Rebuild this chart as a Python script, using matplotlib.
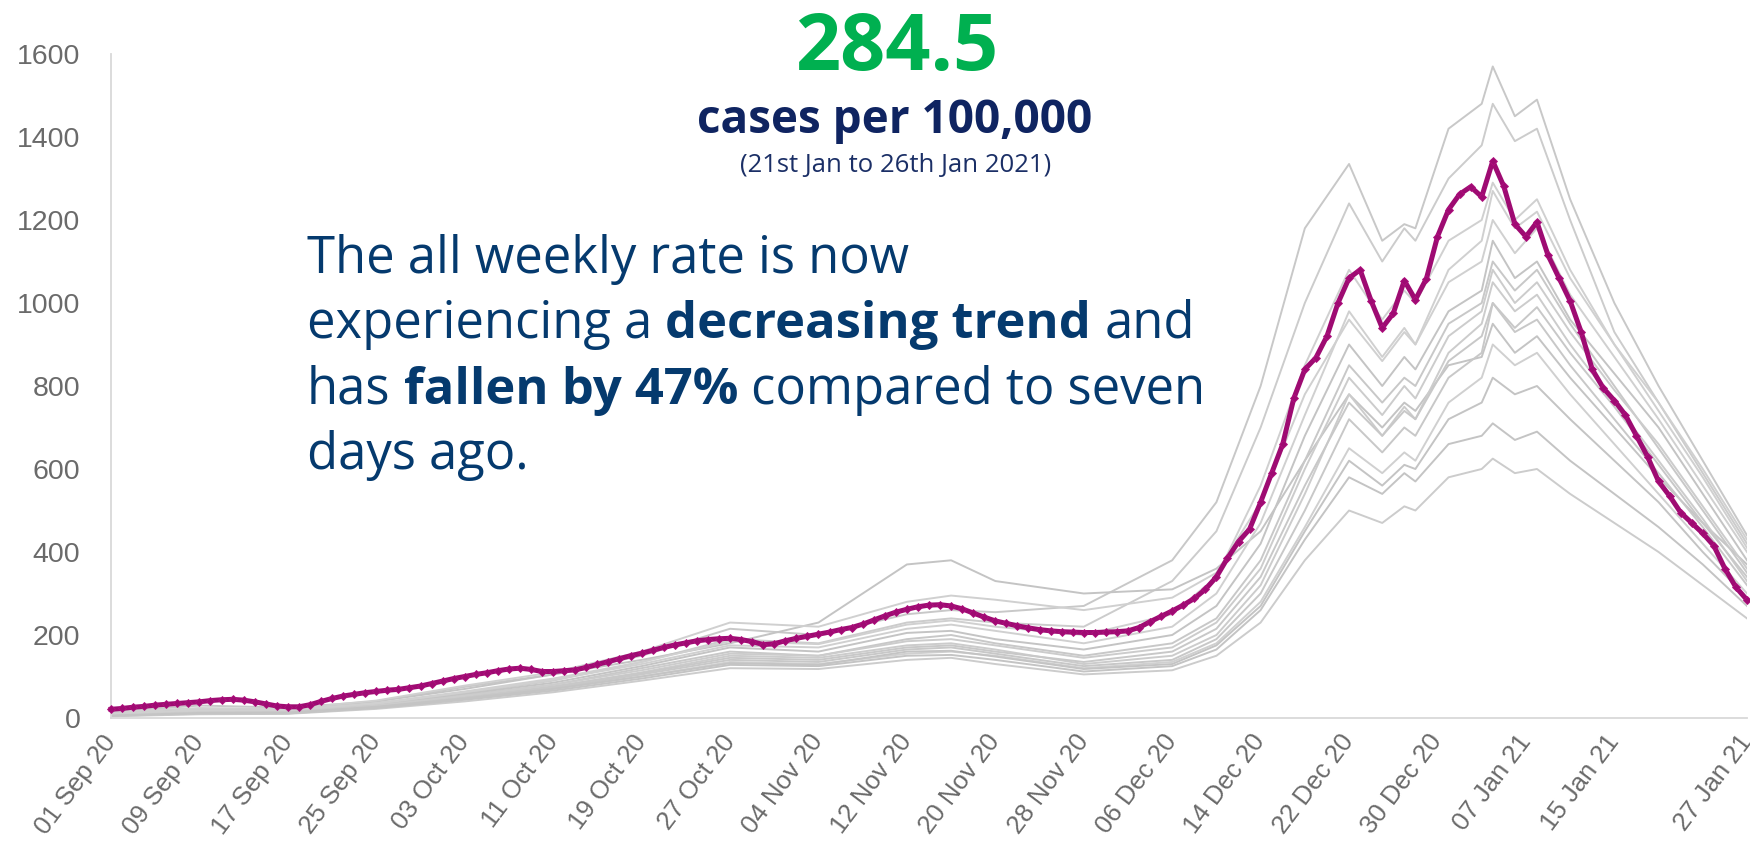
import matplotlib
matplotlib.use("Agg")
import matplotlib.pyplot as plt
import numpy as np

# ---------------- data ----------------
tick_days = [0, 8, 16, 24, 32, 40, 48, 56, 64, 72, 80, 88, 96, 104, 112, 120, 128, 136, 148]
tick_labels = ["01 Sep 20", "09 Sep 20", "17 Sep 20", "25 Sep 20", "03 Oct 20", "11 Oct 20",
               "19 Oct 20", "27 Oct 20", "04 Nov 20", "12 Nov 20", "20 Nov 20", "28 Nov 20",
               "06 Dec 20", "14 Dec 20", "22 Dec 20", "30 Dec 20", "07 Jan 21", "15 Jan 21",
               "27 Jan 21"]
y_ticks = [0, 200, 400, 600, 800, 1000, 1200, 1400, 1600]

# highlighted area: daily weekly rate per 100,000 (01 Sep 20 .. 27 Jan 21)
highlight_rate = [
    21, 23, 26, 28, 31, 33, 35, 37, 39, 42, 44,
    45, 43, 39, 34, 29, 27, 27, 32, 40, 47,
    53, 57, 61, 64, 67, 69, 73, 77, 83, 89,
    95, 100, 105, 109, 114, 118, 120, 117, 112, 112,
    114, 116, 122, 129, 136, 143, 150, 156, 163, 170,
    176, 181, 186, 189, 191, 192, 189, 184, 177, 179,
    186, 192, 197, 202, 207, 213, 218, 226, 236, 246,
    255, 262, 268, 272, 273, 270, 263, 253, 243, 234,
    228, 222, 217, 213, 210, 208, 207, 206, 206, 207,
    208, 210, 218, 232, 245, 258, 272, 288, 310, 340,
    385, 425, 455, 520, 590, 660, 770, 840, 868, 920,
    1000, 1060, 1080, 1005, 940, 975, 1054, 1008, 1059, 1160,
    1225, 1262, 1280, 1256, 1342, 1281, 1190, 1160, 1195, 1115,
    1060, 1005, 930, 840, 795, 765, 730, 680, 630, 570,
    535, 495, 470, 445, 415, 360, 315, 284.5,
]

# other areas (grey), read at these days
other_days = [0, 8, 16, 24, 32, 40, 48, 56, 64, 72, 76, 80, 88, 96, 100, 104, 108,
              112, 115, 117, 118, 121, 124, 125, 127, 129, 132, 136, 140, 144, 148]
area_b = [15, 30, 25, 40, 75, 105, 150, 215, 200, 250, 260, 255, 270, 380, 520, 800, 1180,
          1335, 1150, 1190, 1180, 1420, 1480, 1570, 1450, 1490, 1250, 1000, 800, 620, 440]
area_c = [12, 20, 18, 35, 60, 90, 135, 190, 180, 230, 240, 230, 220, 330, 450, 700, 1000,
          1240, 1100, 1180, 1150, 1300, 1380, 1480, 1390, 1420, 1200, 930, 760, 590, 420]
area_d = [10, 18, 20, 40, 70, 105, 140, 180, 230, 370, 380, 330, 300, 310, 360, 450, 620,
          780, 700, 760, 740, 850, 870, 950, 880, 920, 820, 700, 580, 470, 370]
area_e = [14, 24, 22, 42, 78, 110, 160, 230, 220, 280, 295, 285, 260, 290, 350, 520, 780,
          960, 860, 930, 900, 1050, 1100, 1200, 1120, 1180, 1020, 870, 720, 560, 400]
area_f = [8, 15, 15, 30, 55, 80, 120, 160, 150, 190, 200, 180, 150, 180, 240, 380, 620,
          850, 760, 820, 800, 950, 1000, 1100, 1030, 1080, 950, 800, 650, 500, 350]
area_g = [6, 12, 14, 28, 50, 75, 110, 150, 145, 175, 180, 165, 130, 150, 200, 320, 540,
          780, 680, 750, 720, 880, 950, 1050, 980, 1020, 900, 760, 620, 480, 330]
area_h = [10, 16, 16, 32, 58, 85, 125, 170, 160, 205, 210, 190, 165, 200, 270, 420, 680,
          900, 800, 870, 840, 980, 1030, 1150, 1060, 1100, 960, 830, 700, 540, 380]
area_i = [5, 10, 12, 25, 45, 70, 100, 135, 130, 155, 160, 150, 120, 135, 180, 280, 460,
          650, 590, 640, 620, 760, 820, 900, 850, 880, 780, 660, 540, 420, 300]
area_j = [7, 13, 13, 26, 48, 72, 105, 140, 135, 165, 170, 155, 125, 140, 190, 300, 500,
          720, 640, 700, 680, 820, 880, 1000, 930, 960, 850, 720, 590, 460, 320]
area_k = [4, 9, 10, 22, 40, 62, 90, 120, 118, 140, 145, 130, 105, 115, 150, 230, 380,
          500, 470, 510, 500, 580, 600, 625, 590, 600, 540, 470, 400, 320, 240]
area_l = [6, 11, 11, 24, 44, 66, 95, 128, 125, 150, 152, 140, 112, 125, 165, 260, 430,
          580, 540, 590, 570, 660, 680, 710, 670, 690, 620, 540, 460, 370, 270]
area_m = [9, 17, 17, 34, 62, 92, 130, 175, 170, 215, 225, 210, 180, 220, 300, 470, 730,
          980, 870, 940, 900, 1080, 1150, 1270, 1180, 1220, 1060, 900, 760, 600, 430]
area_n = [5, 11, 12, 27, 50, 76, 108, 145, 140, 170, 175, 160, 135, 160, 215, 340, 560,
          760, 680, 740, 720, 860, 920, 1000, 940, 990, 880, 750, 610, 470, 340]
area_o = [8, 14, 15, 30, 54, 80, 115, 155, 150, 185, 190, 175, 145, 170, 230, 360, 600,
          820, 730, 800, 770, 920, 980, 1080, 1000, 1050, 930, 790, 660, 510, 360]
area_p = [6, 12, 13, 27, 47, 70, 100, 132, 128, 160, 162, 148, 118, 130, 175, 270, 450,
          620, 560, 610, 600, 720, 760, 820, 780, 800, 720, 620, 520, 400, 290]
area_q = [11, 19, 19, 36, 64, 95, 135, 185, 178, 225, 235, 220, 200, 250, 340, 560, 850,
          1080, 960, 1030, 1000, 1150, 1200, 1290, 1200, 1250, 1080, 900, 740, 580, 410]

other_areas = [area_b, area_c, area_d, area_e, area_f, area_g, area_h, area_i,
               area_j, area_k, area_l, area_m, area_n, area_o, area_p, area_q]

# ---------------- figure ----------------
W, H = 1750, 852
fig = plt.figure(figsize=(W / 100, H / 100), dpi=100)
fig.patch.set_facecolor("white")

x0, x1 = 111, 1747
y0, y1 = 718, 54
ax = fig.add_axes([x0 / W, 1 - y0 / H, (x1 - x0) / W, (y0 - y1) / H])
ax.set_xlim(0, 148)
ax.set_ylim(0, 1600)

greys = ["#c8c8c8", "#cccccc", "#c4c4c4", "#d0d0d0"]
for k, series in enumerate(other_areas):
    ax.plot(other_days, series, color=greys[k % len(greys)], lw=1.4, zorder=2,
            solid_joinstyle="round")

days = np.arange(len(highlight_rate))
ax.plot(days, highlight_rate, color="#9e0b72", lw=3.6, marker="D", markersize=4.2,
        markeredgewidth=0.6, markeredgecolor="#b0107f", zorder=5, clip_on=False)

for s in ["top", "right"]:
    ax.spines[s].set_visible(False)
for s in ["left", "bottom"]:
    ax.spines[s].set_color("#d9d9d9")
    ax.spines[s].set_linewidth(1.3)

ax.set_yticks(y_ticks)
ax.set_yticklabels([str(v) for v in y_ticks], fontsize=20.5, color="#6a6a6a",
                   family="Liberation Sans")
ax.set_xticks(tick_days)
ax.set_xticklabels(tick_labels, fontsize=18.5, color="#6a6a6a", family="Liberation Sans",
                   rotation=53, ha="right", va="center", rotation_mode="anchor")
ax.tick_params(axis="y", length=0, pad=22)
ax.tick_params(axis="x", length=0, pad=14)

# ---------------- header text ----------------
navy = "#0f2461"
fig.text(897 / W, 1 - 70 / H, "284.5", ha="center", va="baseline", fontsize=57,
         fontweight="bold", color="#00b050", family="Open Sans")
fig.text(895 / W, 1 - 133 / H, "cases per 100,000", ha="center", va="baseline",
         fontsize=33, fontweight="bold", color=navy, family="Open Sans")
fig.text(896 / W, 1 - 172 / H, "(21st Jan to 26th Jan 2021)", ha="center",
         va="baseline", fontsize=18.5, color="#1b2f66", family="Open Sans")

# ---------------- paragraph with bold runs ----------------
renderer = fig.canvas.get_renderer()
para_color = "#053a6e"
para_family = "Open Sans"
para_size = 36.5


def text_width(s, weight):
    t = fig.text(0, 0, s, fontsize=para_size, fontweight=weight, family=para_family)
    w = t.get_window_extent(renderer).width
    t.remove()
    return w


def space_width(weight):
    return text_width("a a", weight) - text_width("aa", weight)


def draw_runs(runs, x_px, base_px):
    x = x_px
    for s, weight in runs:
        lead = len(s) - len(s.lstrip(" "))
        trail = len(s) - len(s.rstrip(" "))
        core = s.strip(" ")
        x += lead * space_width(weight)
        t = fig.text(x / W, 1 - base_px / H, core, fontsize=para_size, fontweight=weight,
                     family=para_family, color=para_color, ha="left", va="baseline")
        x += t.get_window_extent(renderer).width
        x += trail * space_width(weight)


lines = [
    [("The all weekly rate is now", "normal")],
    [("experiencing a ", "normal"), ("decreasing trend", "bold"), (" and", "normal")],
    [("has ", "normal"), ("fallen by 47%", "bold"), (" compared to seven", "normal")],
    [("days ago.", "normal")],
]
baselines = [273, 338, 404, 469]
for runs, b in zip(lines, baselines):
    draw_runs(runs, 307, b)

fig.savefig("out.png", dpi=100, facecolor="white")
